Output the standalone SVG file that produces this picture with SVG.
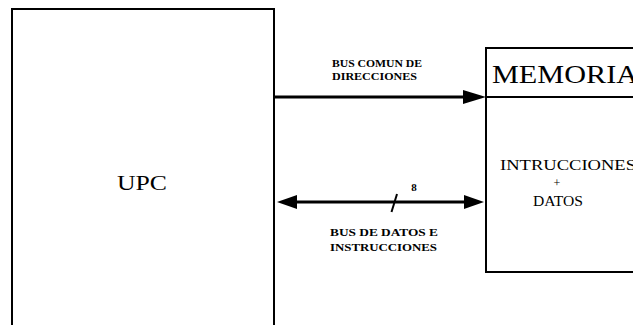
<svg xmlns="http://www.w3.org/2000/svg" width="633" height="325" viewBox="0 0 633 325">
  <defs>
    <style>
      .box { fill: #ffffff; stroke: #000000; stroke-width: 2; }
      .bus { stroke: #000000; stroke-width: 3; fill: none; }
      .head { fill: #000000; }
      .lbl { font-family: "Liberation Serif", "Times New Roman", serif; font-weight: bold; font-size: 11px; fill: #000000; }
      .big { font-family: "Liberation Serif", "Times New Roman", serif; fill: #000000; }
    </style>
  </defs>
  <rect x="0" y="0" width="633" height="325" fill="#ffffff"/>

  <!-- Processor -->
  <g id="upc">
    <rect class="box" x="12" y="9" width="262" height="330"/>
    <text class="big" x="117" y="190" font-size="22" textLength="50" lengthAdjust="spacingAndGlyphs">UPC</text>
  </g>

  <!-- Memory -->
  <g id="memoria">
    <rect class="box" x="486" y="48" width="170" height="224"/>
    <line x1="486" y1="97" x2="640" y2="97" stroke="#000" stroke-width="2"/>
    <text class="big" x="492" y="83" font-size="26" textLength="146" lengthAdjust="spacingAndGlyphs">MEMORIA</text>
    <text class="big" x="500" y="170" font-size="14" textLength="136" lengthAdjust="spacingAndGlyphs">INTRUCCIONES</text>
    <text class="big" x="557" y="187" font-size="12" text-anchor="middle">+</text>
    <text class="big" x="533" y="206" font-size="14" textLength="50" lengthAdjust="spacingAndGlyphs">DATOS</text>
  </g>

  <!-- Buses -->
  <g id="connectors">
    <line class="bus" x1="275" y1="97" x2="466" y2="97"/>
    <polygon class="head" points="486,97 463,90 463,104"/>
    <line class="bus" x1="292" y1="202" x2="468" y2="202"/>
    <polygon class="head" points="277,202 297,195 297,209"/>
    <polygon class="head" points="484,202 464,195 464,209"/>
    <line x1="391.5" y1="212" x2="397" y2="194" stroke="#000" stroke-width="2"/>
    <text class="lbl" x="414" y="191" text-anchor="middle" font-size="10">8</text>
  </g>

  <g id="labels">
    <text class="lbl" x="332" y="67" textLength="90" lengthAdjust="spacingAndGlyphs">BUS COMUN DE</text>
    <text class="lbl" x="332" y="80" textLength="85" lengthAdjust="spacingAndGlyphs">DIRECCIONES</text>
    <text class="lbl" x="330" y="236" textLength="108" lengthAdjust="spacingAndGlyphs">BUS DE DATOS E</text>
    <text class="lbl" x="330" y="251" textLength="107" lengthAdjust="spacingAndGlyphs">INSTRUCCIONES</text>
  </g>
</svg>
